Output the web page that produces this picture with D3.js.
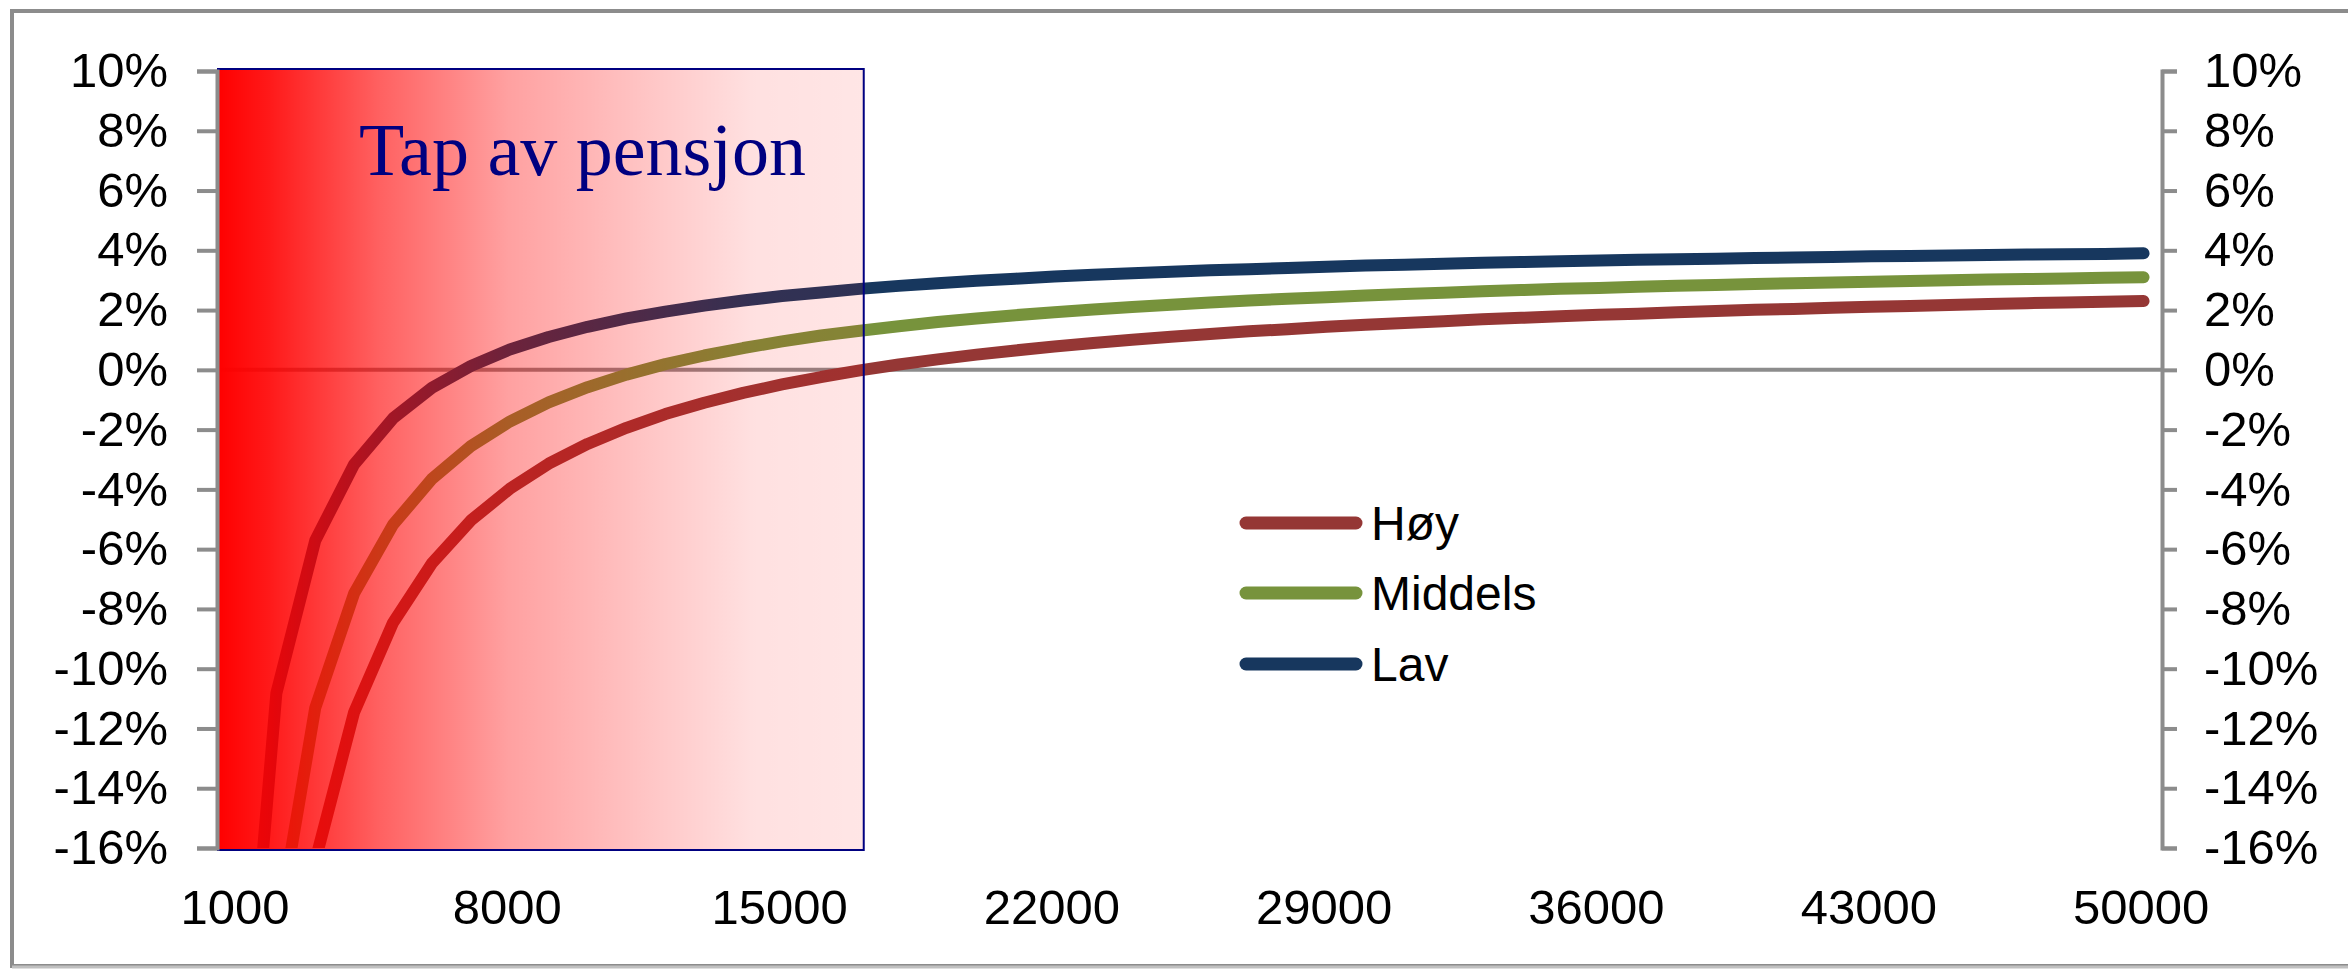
<!DOCTYPE html>
<html><head><meta charset="utf-8">
<script src="https://cdn.jsdelivr.net/npm/d3@7"></script>
<style>body{margin:0;background:#fff;}svg{display:block;}</style>
</head><body>
<script>
const categories = [1000,2000,3000,4000,5000,6000,7000,8000,9000,10000,11000,12000,13000,14000,15000,16000,17000,18000,19000,20000,21000,22000,23000,24000,25000,26000,27000,28000,29000,30000,31000,32000,33000,34000,35000,36000,37000,38000,39000,40000,41000,42000,43000,44000,45000,46000,47000,48000,49000,50000];
const xTickLabels = [1000,8000,15000,22000,29000,36000,43000,50000];
const yTickValues = [10,8,6,4,2,0,-2,-4,-6,-8,-10,-12,-14,-16];
const seriesNames = ["Høy","Middels","Lav"];
const hoy = [-56.3,-26.4,-16.43,-11.45,-8.46,-6.47,-5.04,-3.98,-3.14,-2.48,-1.94,-1.48,-1.10,-0.77,-0.49,-0.24,-0.02,0.18,0.35,0.51,0.65,0.78,0.90,1.01,1.11,1.20,1.29,1.36,1.44,1.51,1.57,1.63,1.69,1.74,1.79,1.84,1.88,1.93,1.97,2.01,2.04,2.08,2.11,2.14,2.17,2.20,2.23,2.25,2.28,2.30];
const middels = [-41.98,-18.98,-11.31,-7.48,-5.18,-3.65,-2.55,-1.73,-1.09,-0.58,-0.16,0.19,0.48,0.73,0.95,1.15,1.31,1.46,1.60,1.72,1.83,1.93,2.02,2.10,2.18,2.25,2.32,2.38,2.43,2.49,2.54,2.58,2.63,2.67,2.71,2.74,2.78,2.81,2.84,2.87,2.90,2.92,2.95,2.97,3.00,3.02,3.04,3.06,3.08,3.10];
const lav = [-26.15,-10.82,-5.71,-3.16,-1.62,-0.60,0.13,0.68,1.10,1.44,1.72,1.95,2.15,2.32,2.47,2.59,2.71,2.81,2.90,2.98,3.05,3.12,3.18,3.23,3.28,3.33,3.37,3.41,3.45,3.49,3.52,3.55,3.58,3.61,3.63,3.66,3.68,3.70,3.72,3.74,3.76,3.78,3.80,3.81,3.83,3.84,3.86,3.87,3.88,3.90];
const seriesColors = ["#953735","#77933c","#17375e"];
const lossZoneEnd = 17100;
const annotation = "Tap av pensjon";

(function(){
const W = 2348, H = 970;
const pl = 218, pr = 2163, pt = 71, pb = 848;
const svg = d3.select("body").append("svg").attr("width", W).attr("height", H);

// outer frame
svg.append("rect").attr("x",12).attr("y",11).attr("width",W+20).attr("height",955)
  .attr("fill","none").attr("stroke","#8c8c8c").attr("stroke-width",4);
svg.append("line").attr("x1",12).attr("x2",W).attr("y1",967).attr("y2",967).attr("stroke","#c0c0c0").attr("stroke-width",3);

const x = d3.scalePoint().domain(categories).range([pl, pr]).padding(0.5);
const y = d3.scaleLinear().domain([-16,10]).range([pb, pt]);
const xLin = d3.scaleLinear().domain([categories[0], categories[categories.length-1]]).range([x(categories[0]), x(categories[categories.length-1])]);

const defs = svg.append("defs");
defs.append("clipPath").attr("id","plotclip").append("rect")
  .attr("x",pl).attr("y",pt).attr("width",pr-pl).attr("height",pb-pt);
const grad = defs.append("linearGradient").attr("id","lossgrad").attr("x1","0").attr("x2","1").attr("y1","0").attr("y2","0");
[[0,1],[0.08,0.9],[0.25,0.62],[0.45,0.37],[0.66,0.23],[0.83,0.12],[1,0.1]].forEach(([o,a])=>{
  grad.append("stop").attr("offset",o).attr("stop-color","#ff0000").attr("stop-opacity",a);
});

// zero line
svg.append("line").attr("x1",pl).attr("x2",pr).attr("y1",y(0)).attr("y2",y(0))
  .attr("stroke","#8c8c8c").attr("stroke-width",4);

// series
const allSeries = [hoy, middels, lav];
const lineGen = d3.line().x((d,i)=>x(categories[i])).y(d=>y(d));
const g = svg.append("g").attr("clip-path","url(#plotclip)");
allSeries.forEach((s,k)=>{
  g.append("path").datum(s).attr("d",lineGen).attr("fill","none")
    .attr("stroke",seriesColors[k]).attr("stroke-width",12)
    .attr("stroke-linecap","round").attr("stroke-linejoin","round");
});

// loss zone overlay
const zx0 = pl, zx1 = xLin(lossZoneEnd);
svg.append("rect").attr("x",zx0).attr("y",y(10)-2).attr("width",zx1-zx0).attr("height",y(-16)-y(10)+4)
  .attr("fill","url(#lossgrad)").attr("stroke","#000080").attr("stroke-width",2);
svg.append("text").attr("x",359).attr("y",175).attr("font-family","'Liberation Serif','Times New Roman',serif")
  .attr("font-size",74).attr("fill","#000080").text(annotation);

// left axis
const yAxisL = d3.axisLeft(y).tickValues(yTickValues).tickSize(20).tickFormat(d=>d+"%");
const gl = svg.append("g").attr("transform",`translate(${pl-1},0)`).call(yAxisL);
// right axis
const yAxisR = d3.axisRight(y).tickValues(yTickValues).tickSize(15).tickFormat(d=>d+"%");
const gr = svg.append("g").attr("transform",`translate(${pr-1},0)`).call(yAxisR);
[gl,gr].forEach(ga=>{
  ga.select(".domain").attr("stroke","#8c8c8c").attr("stroke-width",4);
  ga.selectAll(".tick line").attr("stroke","#8c8c8c").attr("stroke-width",4);
  ga.selectAll("text").attr("font-family","'Liberation Sans',Arial,sans-serif").attr("font-size",49).attr("fill","#000");
});
gl.selectAll(".tick text").attr("x",-49);
gr.selectAll(".tick text").attr("x",42);

// x axis labels (axis line hidden; labels at bottom)
const xAxis = d3.axisBottom(x).tickValues(xTickLabels).tickSize(0).tickPadding(0);
const gx = svg.append("g").attr("transform",`translate(-3,${pb})`).call(xAxis);
gx.select(".domain").remove();
gx.selectAll("text").attr("font-family","'Liberation Sans',Arial,sans-serif").attr("font-size",49)
  .attr("fill","#000").attr("dy",null).attr("y",76);

// legend
const legY = [523,593,664];
seriesNames.forEach((n,k)=>{
  svg.append("line").attr("x1",1246).attr("x2",1356).attr("y1",legY[k]).attr("y2",legY[k])
    .attr("stroke",seriesColors[k]).attr("stroke-width",13).attr("stroke-linecap","round");
  svg.append("text").attr("x",1371).attr("y",legY[k]+17).attr("font-family","'Liberation Sans',Arial,sans-serif")
    .attr("font-size",48).attr("fill","#000").text(n);
});
})();
</script>
</body></html>
